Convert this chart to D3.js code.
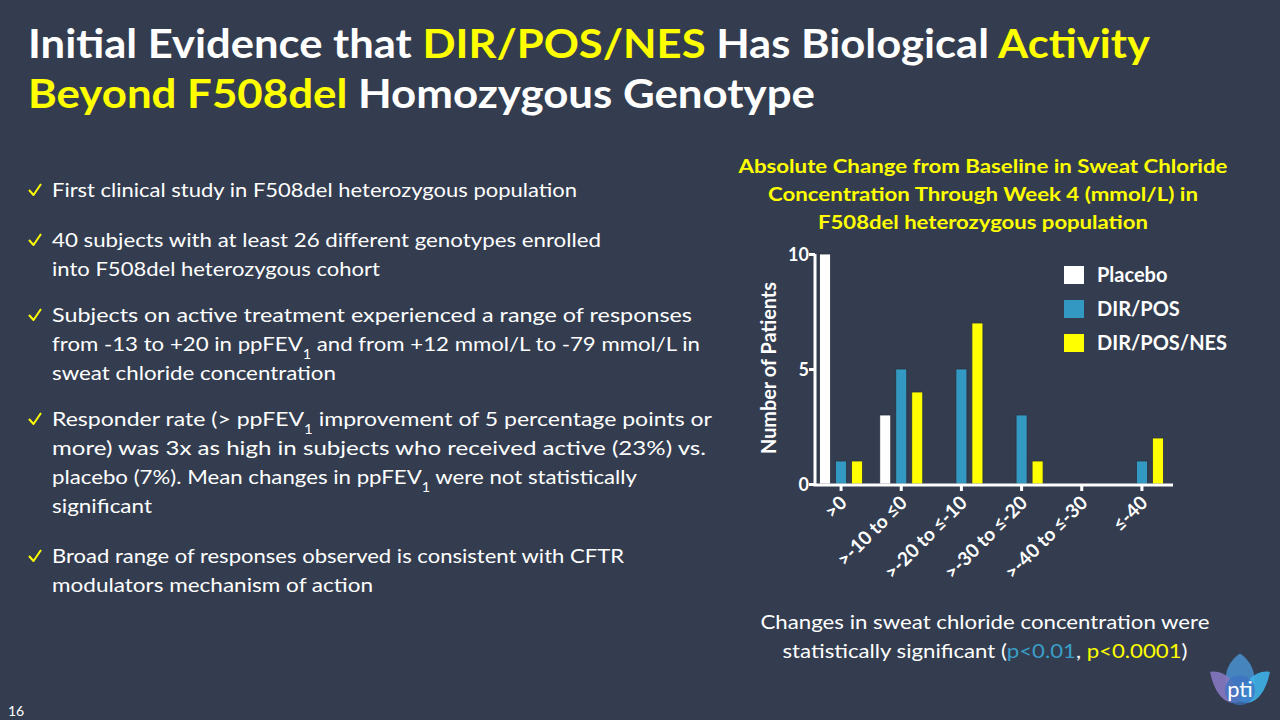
<!DOCTYPE html>
<html>
<head>
<meta charset="utf-8">
<script src="https://cdn.jsdelivr.net/npm/d3@7"></script>
<style>
  html, body { margin: 0; padding: 0; background: #333d4f; }
  svg { display: block; font-family: Lato, "Open Sans", sans-serif; }
</style>
</head>
<body>
<svg id="slide" width="1280" height="720"></svg>
<script>
// Данные графика
const categories = ['>0', '>-10 to ≤0', '>-20 to ≤-10', '>-30 to ≤-20', '>-40 to ≤-30', '≤-40'];
const seriesNames = ['Placebo', 'DIR/POS', 'DIR/POS/NES'];
const placebo = [10, 3, 0, 0, 0, 0];
const dirPos = [1, 5, 5, 3, 0, 1];
const dirPosNes = [1, 4, 7, 1, 0, 2];
const yTicks = [0, 5, 10];

const colors = ['#ffffff', '#3399c2', '#ffff00'];
const YELLOW = '#ffff00';
const BLUE = '#3a9fc8';

const svg = d3.select('#slide');
svg.append('rect').attr('width', 1280).attr('height', 720).attr('fill', '#333d4f');

// Вспомогательная функция: строка текста из кусочков
function richLine(parent, x, y, parts, opts) {
    const t = parent.append('text')
        .attr('x', x).attr('y', y)
        .attr('font-size', opts.size)
        .attr('font-weight', opts.weight || 'normal')
        .attr('text-anchor', opts.anchor || 'start')
        .attr('fill', opts.fill || '#fff');
    if (opts.width) t.attr('textLength', opts.width).attr('lengthAdjust', 'spacingAndGlyphs');
    parts.forEach(p => {
        if (typeof p === 'string') {
            t.append('tspan').text(p);
        } else if (p.sub) {
            t.append('tspan').attr('baseline-shift', 'sub').attr('font-size', opts.size * 0.65).text(p.sub);
        } else {
            t.append('tspan').attr('fill', p.color).text(p.t);
        }
    });
    return t;
}

// Заголовок слайда
richLine(svg, 28, 58, ['Initial Evidence that ', {t: 'DIR/POS/NES', color: YELLOW}, ' Has Biological ', {t: 'Activity', color: YELLOW}],
    {size: 40, weight: 'bold', width: 1122});
richLine(svg, 28, 108, [{t: 'Beyond F508del', color: YELLOW}, ' Homozygous Genotype'],
    {size: 40, weight: 'bold', width: 787});

// Список пунктов
const bullets = [
    {y: 197, lines: [
        [['First clinical study in F508del heterozygous population'], 525]
    ]},
    {y: 247, lines: [
        [['40 subjects with at least 26 different genotypes enrolled'], 549],
        [['into F508del heterozygous cohort'], 328]
    ]},
    {y: 322, lines: [
        [['Subjects on active treatment experienced a range of responses'], 640],
        [['from -13 to +20 in ppFEV', {sub: '1'}, ' and from +12 mmol/L to -79 mmol/L in'], 648],
        [['sweat chloride concentration'], 284]
    ]},
    {y: 426, lines: [
        [['Responder rate (> ppFEV', {sub: '1'}, ' improvement of 5 percentage points or'], 660],
        [['more) was 3x as high in subjects who received active (23%) vs.'], 654],
        [['placebo (7%). Mean changes in ppFEV', {sub: '1'}, ' were not statistically'], 585],
        [['significant'], 100]
    ]},
    {y: 563, lines: [
        [['Broad range of responses observed is consistent with CFTR'], 572],
        [['modulators mechanism of action'], 321]
    ]}
];

const bulletG = svg.append('g');
bullets.forEach(b => {
    bulletG.append('path')
        .attr('d', `M${29},${b.y - 7} L${33.5},${b.y - 2} L${41},${b.y - 13}`)
        .attr('fill', 'none').attr('stroke', YELLOW).attr('stroke-width', 2)
        .attr('stroke-linejoin', 'round');
    b.lines.forEach((ln, i) => {
        richLine(bulletG, 52, b.y + i * 29, ln[0], {size: 20, width: ln[1]});
    });
});

// Заголовок графика
const chartTitle = [
    ['Absolute Change from Baseline in Sweat Chloride', 489],
    ['Concentration Through Week 4 (mmol/L) in', 430],
    ['F508del heterozygous population', 330]
];
chartTitle.forEach((ln, i) => {
    richLine(svg, 983, 173 + i * 28, [ln[0]], {size: 19, weight: 'bold', anchor: 'middle', fill: YELLOW, width: ln[1]});
});

// Шкалы
const x = d3.scaleBand().domain(categories).range([811, 1172]);
const xs = d3.scalePoint().domain(seriesNames).range([-16, 16]);
const y = d3.scaleLinear().domain([0, 10]).range([484, 254]);
const barW = 11;

const seriesValues = [placebo, dirPos, dirPosNes];
const chart = svg.append('g');

seriesValues.forEach((vals, si) => {
    chart.append('g').selectAll('rect')
        .data(vals.map((v, ci) => ({v, c: categories[ci]})))
        .enter().append('rect')
        .filter(d => d.v > 0)
        .attr('x', d => x(d.c) + x.bandwidth() / 2 + xs(seriesNames[si]) - barW / 2)
        .attr('y', d => y(d.v))
        .attr('width', barW)
        .attr('height', d => y(0) - y(d.v))
        .attr('fill', colors[si])
        .attr('stroke', '#2a3240')
        .attr('stroke-width', 0.8);
});

// Оси
const yAxis = chart.append('g')
    .attr('transform', 'translate(815,0)')
    .call(d3.axisLeft(y).tickValues(yTicks).tickSize(6).tickSizeOuter(0));
yAxis.select('.domain').attr('stroke', '#fff').attr('stroke-width', 3)
    .attr('d', `M0,${y(10)}V${y(0) + 1.5}`);
yAxis.selectAll('.tick line').attr('stroke', '#fff').attr('stroke-width', 3);
yAxis.selectAll('.tick text').attr('fill', '#fff').attr('font-size', 18).attr('font-weight', 'bold')
    .attr('x', -6).attr('dy', '0.36em').style('font-family', 'Lato, sans-serif');

const xAxis = chart.append('g')
    .attr('transform', `translate(0,${y(0) + 1})`)
    .call(d3.axisBottom(x).tickSize(6).tickSizeOuter(0));
xAxis.select('.domain').attr('stroke', '#fff').attr('stroke-width', 3)
    .attr('d', 'M813.5,0H1173');
xAxis.selectAll('.tick line').attr('stroke', '#fff').attr('stroke-width', 3);
xAxis.selectAll('.tick text')
    .attr('fill', '#fff').attr('font-size', 19).attr('font-weight', 'bold')
    .style('font-family', 'Lato, sans-serif')
    .attr('text-anchor', 'end')
    .attr('x', 0).attr('y', 0).attr('dy', 0)
    .attr('transform', 'translate(7,19) rotate(-45)');

// Подпись оси Y
svg.append('text')
    .attr('transform', 'translate(776,368) rotate(-90)')
    .attr('text-anchor', 'middle')
    .attr('fill', '#fff').attr('font-size', 20).attr('font-weight', 'bold')
    .attr('textLength', 172).attr('lengthAdjust', 'spacingAndGlyphs')
    .text('Number of Patients');

// Легенда
const legend = svg.append('g');
seriesNames.forEach((name, i) => {
    const ly = 266 + i * 34;
    legend.append('rect').attr('x', 1064).attr('y', ly).attr('width', 20).attr('height', 18)
        .attr('fill', colors[i]);
    legend.append('text').attr('x', 1097).attr('y', ly + 16)
        .attr('fill', '#fff').attr('font-size', 20).attr('font-weight', 'bold').text(name);
});

// Примечание внизу
richLine(svg, 985, 629, ['Changes in sweat chloride concentration were'], {size: 20, anchor: 'middle', width: 449});
richLine(svg, 985, 658, ['statistically significant (', {t: 'p<0.01', color: BLUE}, ', ', {t: 'p<0.0001', color: YELLOW}, ')'],
    {size: 20, anchor: 'middle', width: 405});

// Номер слайда
svg.append('text').attr('x', 8).attr('y', 716).attr('fill', '#fff').attr('font-size', 14).text('16');

// Логотип pti
const logo = svg.append('g').attr('transform', 'translate(1240,688) scale(1.15)');
logo.append('path').attr('d', 'M0,-30 C12,-22 16,-8 10,10 C0,14 -10,10 -10,10 C-16,-8 -12,-22 0,-30 Z')
    .attr('fill', '#4a90d0').attr('opacity', 0.85);
logo.append('path').attr('d', 'M-26,-14 C-14,-16 -2,-6 0,12 C-12,16 -22,6 -26,-14 Z')
    .attr('fill', '#8478c0').attr('opacity', 0.9);
logo.append('path').attr('d', 'M26,-14 C14,-16 2,-6 0,12 C12,16 22,6 26,-14 Z')
    .attr('fill', '#3fb0e8').attr('opacity', 0.9);
logo.append('circle').attr('cx', 0).attr('cy', 2).attr('r', 13).attr('fill', '#3a72c0').attr('opacity', 0.7);
logo.append('text').attr('x', 0).attr('y', 8).attr('text-anchor', 'middle')
    .attr('fill', '#fff').attr('font-size', 19).text('pti');
</script>
</body>
</html>
